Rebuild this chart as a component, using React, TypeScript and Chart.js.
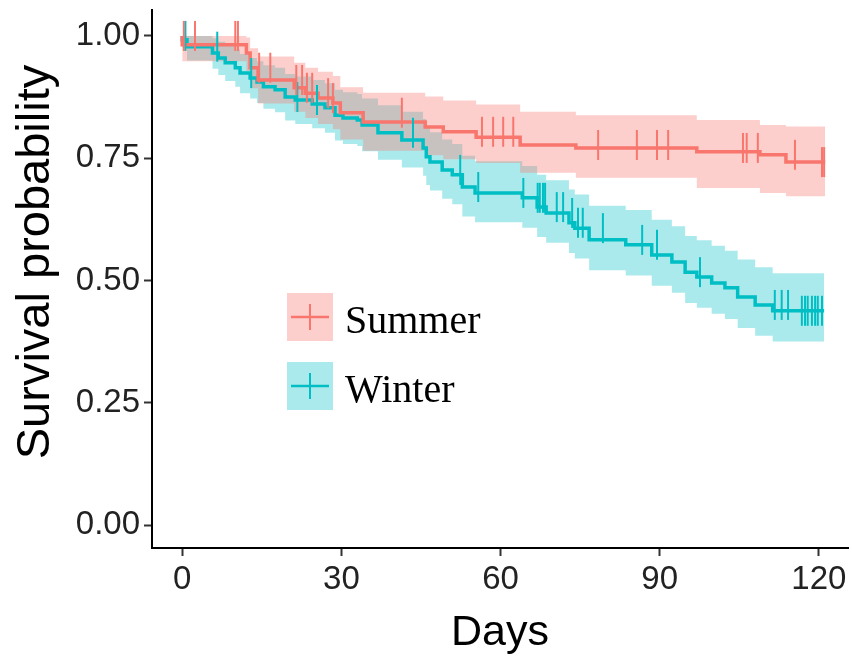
import React, { useEffect, useRef } from "react";
import { Chart, registerables } from "chart.js";

Chart.register(...registerables);

// Axis ticks
const xTicks = [0, 30, 60, 90, 120];
const yTicks = [0, 0.25, 0.5, 0.75, 1];

// Summer group: Kaplan-Meier step times (days) and survival after each step
const summerTimes = [0, 12.1, 12.8, 14.3, 21.1, 23.2, 25.6, 28.4, 29.8, 34.1, 45.8, 49.2, 55.4, 63.7, 74.2, 97, 108.9, 113.8, 120.2];
const summerSurv = [1, 0.982, 0.965, 0.935, 0.91, 0.894, 0.883, 0.873, 0.863, 0.843, 0.824, 0.814, 0.804, 0.793, 0.777, 0.771, 0.763, 0.757, 0.742];
const summerUpper = [1, 1, 0.997, 0.975, 0.958, 0.945, 0.935, 0.927, 0.918, 0.895, 0.884, 0.876, 0.868, 0.86, 0.845, 0.838, 0.828, 0.818, 0.815];
const summerLower = [1, 0.948, 0.928, 0.893, 0.862, 0.845, 0.832, 0.82, 0.809, 0.788, 0.765, 0.756, 0.748, 0.74, 0.72, 0.71, 0.689, 0.679, 0.672];
const summerEnd = 121.2;
const summerCensored = [0.3, 2.4, 10, 10.5, 14.5, 16.6, 21.5, 22.6, 23.5, 24.5, 27.5, 28.4, 41.4, 56.5, 58.6, 60.5, 62.4, 78.4, 85.7, 89.5, 91.6, 105.7, 106.4, 108.5, 115.5, 120.6, 121];

// Winter group
const winterTimes = [0, 0.9, 5.7, 6.8, 8.1, 10, 10.9, 12.8, 14.1, 15.3, 17.5, 19.4, 21.3, 24.5, 26.9, 28.8, 30.3, 33, 33.9, 36.9, 41.4, 45.4, 46, 46.7, 49, 50.9, 52.8, 55.2, 64.1, 66.9, 68.6, 72.9, 74, 76.7, 83.6, 88.5, 92.3, 94.8, 97, 99.8, 102.3, 104.7, 108, 111.3, 116.4];
const winterSurv = [1, 0.992, 0.978, 0.965, 0.955, 0.945, 0.935, 0.924, 0.914, 0.906, 0.896, 0.89, 0.875, 0.869, 0.861, 0.853, 0.838, 0.832, 0.828, 0.818, 0.802, 0.787, 0.771, 0.753, 0.742, 0.726, 0.716, 0.691, 0.679, 0.669, 0.65, 0.638, 0.618, 0.607, 0.583, 0.573, 0.552, 0.538, 0.517, 0.507, 0.495, 0.485, 0.466, 0.45, 0.438];
const winterUpper = [1, 1, 1, 0.995, 0.988, 0.98, 0.972, 0.963, 0.955, 0.948, 0.94, 0.935, 0.922, 0.917, 0.91, 0.903, 0.89, 0.885, 0.881, 0.872, 0.858, 0.845, 0.83, 0.813, 0.803, 0.788, 0.779, 0.755, 0.744, 0.734, 0.716, 0.705, 0.686, 0.676, 0.653, 0.644, 0.624, 0.611, 0.591, 0.582, 0.571, 0.561, 0.543, 0.527, 0.515];
const winterLower = [1, 0.975, 0.95, 0.933, 0.92, 0.908, 0.896, 0.883, 0.872, 0.863, 0.851, 0.844, 0.827, 0.82, 0.811, 0.802, 0.786, 0.779, 0.775, 0.764, 0.747, 0.731, 0.714, 0.695, 0.684, 0.667, 0.656, 0.631, 0.619, 0.608, 0.589, 0.577, 0.556, 0.545, 0.521, 0.51, 0.489, 0.475, 0.454, 0.444, 0.432, 0.421, 0.403, 0.387, 0.375];
const winterEnd = 121;
const winterCensored = [0.6, 6.6, 13.0, 21.7, 25.4, 43.5, 52.4, 55.8, 64.3, 67.0, 67.4, 68, 68.4, 70.6, 71.8, 73.5, 74.6, 75.5, 79.3, 86.7, 89.5, 97.6, 111.7, 113, 114.2, 116.8, 117.4, 117.9, 118.7, 119.3, 119.8, 120.6];

const groupNames = ["Summer", "Winter"];
const lineColors = ["#F8766D", "#00BFC4"];
const bandColors = ["rgba(248,118,109,0.35)", "rgba(0,191,196,0.33)"];
const yTitle = "Survival probability";
const xTitle = "Days";

const SANS = '"Liberation Sans", Arial, sans-serif';
const SERIF = '"Liberation Serif", "Times New Roman", serif';
const TICK_COLOR = "#222";

type Pt = { x: number; y: number };

function stepPoints(times: number[], values: number[], end: number): Pt[] {
  const pts = times.map((t, i) => ({ x: t, y: values[i] }));
  pts.push({ x: end, y: values[values.length - 1] });
  return pts;
}

function survivalAt(times: number[], values: number[], t: number): number {
  let v = values[0];
  for (let i = 0; i < times.length; i++) {
    if (times[i] <= t) v = values[i];
  }
  return v;
}

function groupDatasets(
  times: number[],
  surv: number[],
  upper: number[],
  lower: number[],
  end: number,
  censored: number[],
  idx: number
) {
  const color = lineColors[idx];
  return [
    {
      label: groupNames[idx] + " upper",
      data: stepPoints(times, upper, end),
      stepped: "after",
      borderWidth: 0,
      borderColor: "rgba(0,0,0,0)",
      pointRadius: 0,
      fill: false,
      order: 3,
    },
    {
      label: groupNames[idx] + " lower",
      data: stepPoints(times, lower, end),
      stepped: "after",
      borderWidth: 0,
      borderColor: "rgba(0,0,0,0)",
      backgroundColor: bandColors[idx],
      pointRadius: 0,
      fill: "-1",
      order: 3,
    },
    {
      label: groupNames[idx],
      data: stepPoints(times, surv, end),
      stepped: "after",
      borderColor: color,
      borderWidth: 3.5,
      pointRadius: 0,
      fill: false,
      order: 2,
    },
    {
      // censoring marks: short vertical ticks on the curve
      label: groupNames[idx] + " censored",
      data: censored.map((t) => ({ x: t, y: survivalAt(times, surv, t) })),
      showLine: false,
      pointStyle: "line",
      pointRotation: 90,
      pointRadius: 15,
      pointBorderWidth: 2,
      pointBorderColor: color,
      pointBackgroundColor: color,
      order: 1,
    },
  ];
}

// Legend inside the plotting panel, plus the rotated y-axis title
const overlay = {
  id: "kmOverlay",
  afterDraw(chart: any) {
    const { ctx, chartArea } = chart;
    const keyX = chartArea.left + 135;
    const keyW = 46;
    const keyH = 48;
    const rows = [chartArea.top + 283, chartArea.top + 352];
    ctx.save();
    rows.forEach((top, i) => {
      ctx.fillStyle = bandColors[i];
      ctx.fillRect(keyX, top, keyW, keyH);
      const cy = top + keyH / 2;
      const cx = keyX + keyW / 2;
      ctx.strokeStyle = lineColors[i];
      ctx.lineWidth = 2.5;
      ctx.beginPath();
      ctx.moveTo(keyX + 4, cy);
      ctx.lineTo(keyX + keyW - 4, cy);
      ctx.stroke();
      ctx.lineWidth = 2;
      ctx.beginPath();
      ctx.moveTo(cx, cy - 13);
      ctx.lineTo(cx, cy + 13);
      ctx.stroke();
      ctx.fillStyle = "#000";
      ctx.font = `40px ${SERIF}`;
      ctx.textAlign = "left";
      ctx.textBaseline = "alphabetic";
      ctx.fillText(groupNames[i], keyX + 58, top + 40);
    });

    ctx.translate(36, chartArea.top + 252);
    ctx.rotate(-Math.PI / 2);
    ctx.fillStyle = "#000";
    ctx.font = `47px ${SANS}`;
    ctx.textAlign = "center";
    ctx.textBaseline = "middle";
    ctx.fillText(yTitle, 0, 0);
    ctx.restore();
  },
};

export default function App() {
  const canvasRef = useRef<HTMLCanvasElement | null>(null);

  useEffect(() => {
    if (!canvasRef.current) return;
    const datasets: any[] = [
      ...groupDatasets(summerTimes, summerSurv, summerUpper, summerLower, summerEnd, summerCensored, 0),
      ...groupDatasets(winterTimes, winterSurv, winterUpper, winterLower, winterEnd, winterCensored, 1),
    ];
    const chart = new Chart(canvasRef.current, {
      type: "line",
      data: { datasets },
      plugins: [overlay],
      options: {
        animation: false,
        responsive: true,
        maintainAspectRatio: false,
        layout: { autoPadding: false, padding: { top: 10, right: 4, left: 0, bottom: 0 } },
        plugins: {
          legend: { display: false },
          tooltip: { enabled: false },
        },
        scales: {
          x: {
            type: "linear",
            min: -5.7,
            max: 125.5,
            afterBuildTicks: (s: any) => {
              s.ticks = xTicks.map((v) => ({ value: v }));
            },
            afterFit: (s: any) => {
              s.height = 111;
              s.paddingLeft = 0;
              s.paddingRight = 0;
            },
            ticks: {
              color: TICK_COLOR,
              font: { size: 33, family: SANS },
              padding: 4,
              maxRotation: 0,
              callback: (v: any) => String(v),
            },
            grid: {
              display: true,
              drawOnChartArea: false,
              drawTicks: true,
              tickLength: 8,
              tickWidth: 2,
              color: "#333",
            },
            border: { display: true, color: "#000", width: 2 },
            title: {
              display: true,
              text: xTitle,
              color: "#000",
              font: { size: 43, family: SANS },
              padding: { top: 0, bottom: 0 },
            },
          },
          y: {
            type: "linear",
            min: -0.047,
            max: 1.053,
            afterBuildTicks: (s: any) => {
              s.ticks = yTicks.map((v) => ({ value: v }));
            },
            afterFit: (s: any) => {
              s.width = 152;
              s.paddingTop = 0;
              s.paddingBottom = 0;
            },
            ticks: {
              color: TICK_COLOR,
              font: { size: 33, family: SANS },
              padding: 4,
              callback: (v: any) => Number(v).toFixed(2),
            },
            grid: {
              display: true,
              drawOnChartArea: false,
              drawTicks: true,
              tickLength: 8,
              tickWidth: 2,
              color: "#333",
            },
            border: { display: true, color: "#000", width: 2 },
            title: { display: false },
          },
        },
      },
    } as any);
    return () => chart.destroy();
  }, []);

  return (
    <div style={{ position: "fixed", left: 0, top: 0, width: 852, height: 659, background: "#fff" }}>
      <canvas ref={canvasRef} />
    </div>
  );
}
